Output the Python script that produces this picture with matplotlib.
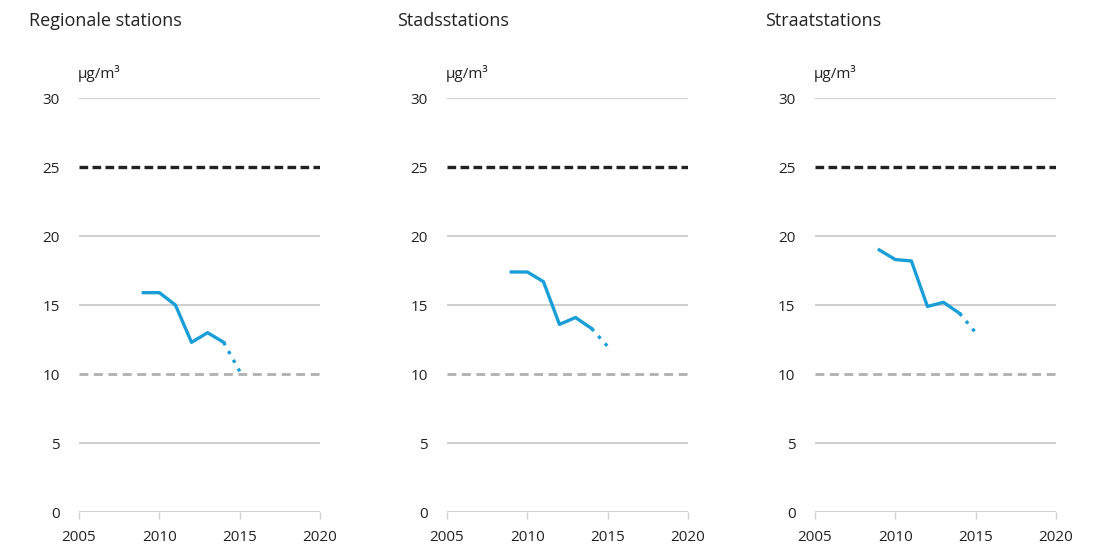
import matplotlib
matplotlib.use("Agg")
from matplotlib import pyplot as plt

titles = ["Regionale stations", "Stadsstations", "Straatstations"]
years = [2009, 2010, 2011, 2012, 2013, 2014]
proj_years = [2014, 2015]
regional = [15.9, 15.9, 15.0, 12.3, 13.0, 12.3]
regional_proj = [12.3, 10.2]
stad = [17.4, 17.4, 16.7, 13.6, 14.1, 13.3]
stad_proj = [13.3, 12.0]
straat = [19.0, 18.3, 18.2, 14.9, 15.2, 14.4]
straat_proj = [14.4, 13.0]
eu_limit = 25
who_guide = 10
yticks = [0, 5, 10, 15, 20, 25, 30]
xticks = [2005, 2010, 2015, 2020]

series = [(regional, regional_proj), (stad, stad_proj), (straat, straat_proj)]
lefts = [0.0716, 0.4049, 0.7382]
blue = "#1a9ed8"

plt.rcParams["font.family"] = ["Open Sans", "DejaVu Sans"]
fig = plt.figure(figsize=(11.04, 5.6), dpi=100)

for i in range(3):
  ax = fig.add_axes([lefts[i], 0.0857, 0.2183, 0.739])
  vals, proj = series[i]
  for y in [0, 5, 15, 20, 30]:
    ax.axhline(y, color="#cfcfcf", lw=1.4, zorder=1)
  ax.axhline(eu_limit, color="#222222", lw=2.4, dashes=(2.6, 1.3), zorder=2)
  ax.axhline(who_guide, color="#b0b0b0", lw=2.0, dashes=(3.2, 2.0), zorder=2)
  ax.plot(years, vals, color=blue, lw=2.4, solid_joinstyle="round", zorder=3)
  ax.plot(proj_years, proj, color=blue, lw=2.4, dashes=(1, 2), zorder=3)
  ax.set_xlim(2005, 2020)
  ax.set_ylim(0, 30)
  ax.set_xticks(xticks)
  ax.set_yticks(yticks)
  for s in ["top", "right", "left", "bottom"]:
    ax.spines[s].set_visible(False)
  ax.tick_params(axis="y", length=0, pad=14, labelsize=11, labelcolor="#222222")
  ax.tick_params(axis="x", length=5, width=1, color="#cfcfcf", pad=8, labelsize=11,
                 labelcolor="#222222")
  ax.text(-0.005, 1.04, "µg/m³", transform=ax.transAxes, fontsize=11, color="#222222",
          ha="left", va="bottom")
  fig.text(lefts[i] - 0.045, 0.962, titles[i], fontsize=13, color="#222222",
           ha="left", va="center")

fig.savefig("out.png", dpi=100)
